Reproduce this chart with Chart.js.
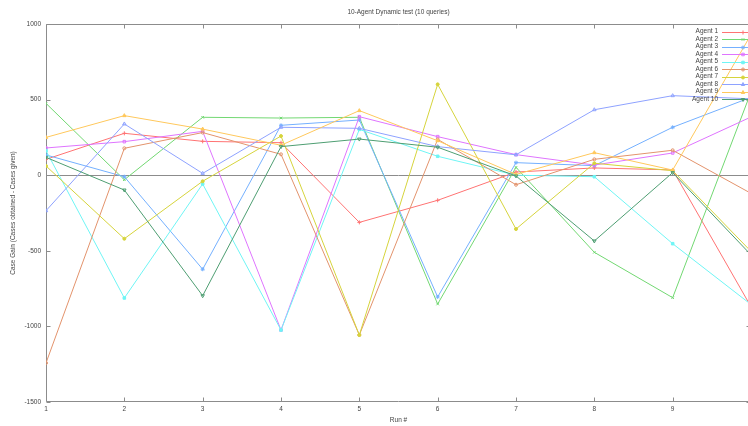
<!DOCTYPE html>
<html>
<head>
<meta charset="utf-8">
<script src="https://cdn.jsdelivr.net/npm/chart.js@4.4.0/dist/chart.umd.min.js"></script>
<style>
  html, body { margin: 0; padding: 0; background: #fff; overflow: hidden; width: 748px; height: 426px; }
  #wrap { position: absolute; left: 0; top: 0; width: 760px; height: 426px; }
</style>
</head>
<body>
<div id="wrap"><canvas id="c" width="760" height="426"></canvas></div>
<script>
// Run numbers on the x axis
const runs = [1, 2, 3, 4, 5, 6, 7, 8, 9, 10];

// Case gain per run for each agent
const agent1  = [105, 277, 224, 215, -312, -166, 21, 48, 35, -870];
const agent2  = [475, -30, 383, 378, 383, -852, 52, -510, -810, 550];
const agent3  = [134, -10, -622, 330, 365, -805, 83, 63, 317, 515];
const agent4  = [180, 222, 290, -1024, 387, 255, 136, 67, 147, 385];
const agent5  = [162, -812, -58, -1024, 303, 125, 0, -10, -453, -855];
const agent6  = [-1242, 178, 282, 138, -1057, 237, -63, 105, 165, -120];
const agent7  = [61, -420, -40, 259, -1057, 601, -356, 79, 30, -504];
const agent8  = [-235, 339, 12, 317, 310, 189, 135, 433, 526, 505];
const agent9  = [250, 394, 305, 198, 427, 228, 5, 149, 34, 930];
const agent10 = [118, -98, -797, 189, 239, 185, -5, -435, 17, -527];

const agentNames = ['Agent 1', 'Agent 2', 'Agent 3', 'Agent 4', 'Agent 5',
                    'Agent 6', 'Agent 7', 'Agent 8', 'Agent 9', 'Agent 10'];
const yTickValues = [-1500, -1000, -500, 0, 500, 1000];

const chartTitle = '10-Agent Dynamic test (10 queries)';
const xTitle = 'Run #';
const yTitle = 'Case Gain (Cases obtained - Cases given)';

const series = [agent1, agent2, agent3, agent4, agent5, agent6, agent7, agent8, agent9, agent10];
const colors = ['#ff7373', '#72d872', '#74b0ff', '#df74ff', '#6ff5f5',
                '#e3936c', '#d6d43c', '#8ea2ff', '#ffc85c', '#4e9e72'];
const styles = ['cross', 'crossRot', 'star', 'rect', 'rect', 'circle', 'circle', 'triangle', 'triangle', 'triangle'];
const filled = [false, false, false, false, true, false, true, false, true, false];
const rotations = [0, 0, 0, 0, 0, 0, 0, 0, 0, 180];
const radii = [2, 1.8, 2, 1.8, 1.8, 1.5, 1.5, 2, 2, 2];

const FONT = { family: '"Liberation Sans", Arial, sans-serif', size: 6.5 };
const TEXT = '#444';
const FRAME = '#8c8c8c';

const datasets = series.map((vals, i) => ({
  label: agentNames[i],
  data: runs.map((r, k) => ({ x: r, y: vals[k] })),
  borderColor: colors[i],
  backgroundColor: filled[i] ? colors[i] : 'rgba(0,0,0,0)',
  pointBorderColor: colors[i],
  pointBackgroundColor: filled[i] ? colors[i] : 'rgba(0,0,0,0)',
  borderWidth: 1,
  pointRadius: radii[i],
  pointBorderWidth: 1,
  pointStyle: styles[i],
  pointRotation: rotations[i],
  tension: 0,
  fill: false,
  order: 10 - i
}));

// Border, mirrored inward ticks and the zero axis
const framePlugin = {
  id: 'frame',
  beforeDatasetsDraw(chart) {
    const { ctx, chartArea: a, scales: { x, y } } = chart;
    ctx.save();
    ctx.strokeStyle = FRAME;
    ctx.lineWidth = 1;
    const L = Math.round(a.left) + 0.5, R = Math.round(a.right) - 0.5;
    const T = Math.round(a.top) + 0.5, B = Math.round(a.bottom) - 0.5;
    ctx.beginPath();
    const y0 = Math.round(y.getPixelForValue(0)) + 0.5;
    ctx.moveTo(L, y0); ctx.lineTo(R, y0);
    ctx.moveTo(L, T); ctx.lineTo(R, T); ctx.lineTo(R, B); ctx.lineTo(L, B); ctx.closePath();
    yTickValues.forEach(v => {
      const py = Math.round(y.getPixelForValue(v)) + 0.5;
      ctx.moveTo(L, py); ctx.lineTo(L + 4, py);
      ctx.moveTo(R, py); ctx.lineTo(R - 4, py);
    });
    runs.forEach(r => {
      const px = Math.round(x.getPixelForValue(r)) + 0.5;
      ctx.moveTo(px, T); ctx.lineTo(px, T + 4);
      ctx.moveTo(px, B); ctx.lineTo(px, B - 4);
    });
    ctx.stroke();
    ctx.restore();
  },
  afterDatasetsDraw(chart) {
    const { ctx, chartArea: a } = chart;
    ctx.save();
    // title
    ctx.fillStyle = TEXT;
    ctx.font = `${FONT.size}px ${FONT.family}`;
    ctx.textAlign = 'center';
    ctx.textBaseline = 'middle';
    ctx.fillText(chartTitle, (a.left + a.right) / 2, 12);
    // key in the top-right corner
    const textRight = 718, lineStart = 722, lineEnd = 764, markX = 743;
    agentNames.forEach((name, i) => {
      const ry = 31.7 + i * 7.48;
      ctx.fillStyle = TEXT;
      ctx.textAlign = 'right';
      ctx.fillText(name, textRight, ry);
      ctx.strokeStyle = colors[i];
      ctx.lineWidth = 1;
      ctx.beginPath();
      ctx.moveTo(lineStart, Math.round(ry) + 0.5);
      ctx.lineTo(lineEnd, Math.round(ry) + 0.5);
      ctx.stroke();
      ctx.fillStyle = filled[i] ? colors[i] : 'rgba(0,0,0,0)';
      Chart.helpers.drawPoint(ctx, {
        pointStyle: styles[i], rotation: rotations[i], radius: radii[i], borderWidth: 1
      }, markX, Math.round(ry) + 0.5);
    });
    ctx.restore();
  }
};

new Chart(document.getElementById('c'), {
  type: 'line',
  data: { datasets },
  plugins: [framePlugin],
  options: {
    responsive: false,
    animation: false,
    devicePixelRatio: 1,
    layout: { padding: { top: 24, right: 9, left: 0, bottom: 0 } },
    plugins: { legend: { display: false }, tooltip: { enabled: false }, title: { display: false } },
    scales: {
      x: {
        type: 'linear', min: 1, max: 10,
        ticks: { stepSize: 1, padding: 3, color: TEXT, font: FONT, maxRotation: 0, autoSkip: false,
                 callback: v => String(v) },
        grid: { display: false, drawTicks: false },
        border: { display: false },
        title: { display: true, text: xTitle, color: TEXT, font: FONT, padding: { top: 0, bottom: 2 } },
        afterFit(s) { s.height = 24; }
      },
      y: {
        type: 'linear', min: -1500, max: 1000,
        afterBuildTicks(s) { s.ticks = yTickValues.map(v => ({ value: v })); },
        ticks: { padding: 5, color: TEXT, font: FONT, callback: v => String(v) },
        grid: { display: false, drawTicks: false },
        border: { display: false },
        title: { display: true, text: yTitle, color: TEXT, font: FONT, padding: { top: 9.5, bottom: 0 } },
        afterFit(s) { s.width = 46; }
      }
    }
  }
});
</script>
</body>
</html>
